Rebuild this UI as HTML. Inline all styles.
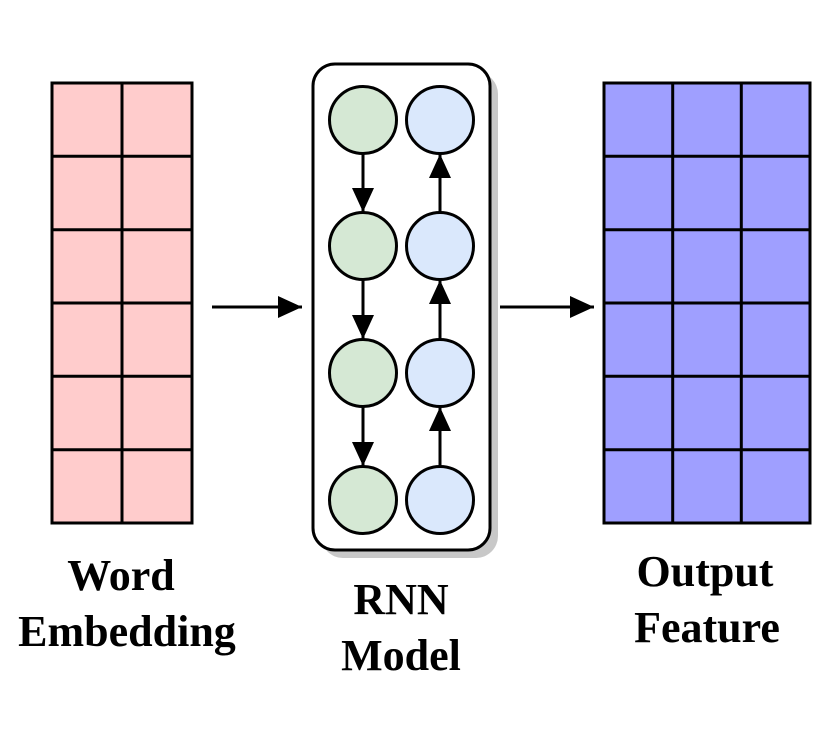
<html><body style="margin:0;background:#fff">
<svg width="831" height="754" xmlns="http://www.w3.org/2000/svg">
<defs>
<marker id="b" markerWidth="24" markerHeight="24" refX="24" refY="12" orient="auto" markerUnits="userSpaceOnUse" viewBox="0 0 24 24"><path d="M0,1 L24,12 L0,23z" fill="#000"/></marker></defs>
<g stroke="#000" stroke-width="3">
<rect x="52" y="83" width="140" height="440" fill="#ffcccc"/>
<line x1="122" y1="83" x2="122" y2="523"/>
<line x1="52" y1="156.3" x2="192" y2="156.3"/><line x1="52" y1="229.7" x2="192" y2="229.7"/><line x1="52" y1="303" x2="192" y2="303"/><line x1="52" y1="376.3" x2="192" y2="376.3"/><line x1="52" y1="449.7" x2="192" y2="449.7"/>
<rect x="604" y="83" width="206" height="440" fill="#9f9fff"/>
<line x1="672.7" y1="83" x2="672.7" y2="523"/><line x1="741.3" y1="83" x2="741.3" y2="523"/>
<line x1="604" y1="156.3" x2="810" y2="156.3"/><line x1="604" y1="229.7" x2="810" y2="229.7"/><line x1="604" y1="303" x2="810" y2="303"/><line x1="604" y1="376.3" x2="810" y2="376.3"/><line x1="604" y1="449.7" x2="810" y2="449.7"/>
</g>
<rect x="321" y="72" width="177" height="486" rx="22" fill="#c8c8c8"/>
<rect x="313" y="64" width="177" height="486" rx="22" fill="#fff" stroke="#000" stroke-width="3"/>
<g stroke="#000" stroke-width="3">
<line x1="363" y1="154" x2="363" y2="212" marker-end="url(#b)"/>
<line x1="363" y1="280" x2="363" y2="339" marker-end="url(#b)"/>
<line x1="363" y1="407" x2="363" y2="466" marker-end="url(#b)"/>
<line x1="440" y1="212" x2="440" y2="154" marker-end="url(#b)"/>
<line x1="440" y1="339" x2="440" y2="280" marker-end="url(#b)"/>
<line x1="440" y1="466" x2="440" y2="407" marker-end="url(#b)"/>
<g fill="#d5e8d4"><circle cx="363" cy="120" r="33.5"/><circle cx="363" cy="246" r="33.5"/><circle cx="363" cy="373" r="33.5"/><circle cx="363" cy="500" r="33.5"/></g>
<g fill="#dae8fc"><circle cx="440" cy="120" r="33.5"/><circle cx="440" cy="246" r="33.5"/><circle cx="440" cy="373" r="33.5"/><circle cx="440" cy="500" r="33.5"/></g>
<line x1="212" y1="307" x2="302" y2="307" marker-end="url(#b)"/>
<line x1="500" y1="307" x2="594" y2="307" marker-end="url(#b)"/>
</g>
<g font-family="Liberation Serif, serif" font-weight="bold" font-size="44" text-anchor="middle">
<text x="121" y="590">Word</text><text x="127" y="646">Embedding</text>
<text x="401" y="614">RNN</text><text x="401" y="670">Model</text>
<text x="705" y="586">Output</text><text x="707" y="642">Feature</text>
</g>
</svg>
</body></html>
